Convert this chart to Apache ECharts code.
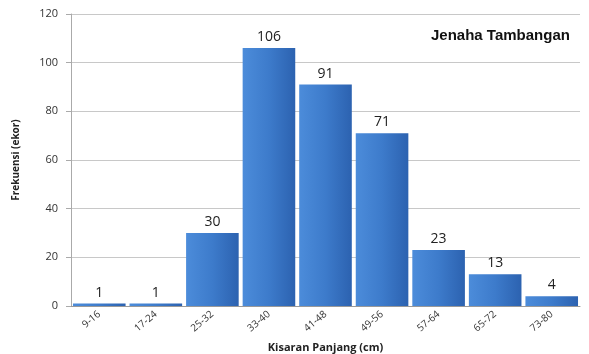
<!DOCTYPE html>
<html>
<head>
<meta charset="utf-8">
<script src="https://cdn.jsdelivr.net/npm/echarts@6/dist/echarts.min.js"></script>
<style>
  html, body { margin: 0; padding: 0; background: #fff; }
  #chart { width: 589px; height: 354px; }
</style>
</head>
<body>
<div id="chart"></div>
<script>
// Length classes (cm) and fish counts per class
const categories = ['9-16', '17-24', '25-32', '33-40', '41-48', '49-56', '57-64', '65-72', '73-80'];
const counts = [1, 1, 30, 106, 91, 71, 23, 13, 4];
const yTicks = { min: 0, max: 120, interval: 20 };

const chart = echarts.init(document.getElementById('chart'), null, { renderer: 'canvas' });

const barFill = new echarts.graphic.LinearGradient(0, 0, 1, 0, [
  { offset: 0, color: '#4c8cda' },
  { offset: 0.5, color: '#3d7bcb' },
  { offset: 1, color: '#2c62b0' }
]);

chart.setOption({
  animation: false,
  backgroundColor: '#ffffff',
  title: {
    text: 'Jenaha Tambangan',
    left: 426,
    top: 23,
    textStyle: { fontFamily: 'Liberation Sans, Arial, sans-serif', fontWeight: 'bold', fontSize: 15, color: '#111' }
  },
  grid: { left: 71, right: 9, top: 14, bottom: 48, outerBoundsMode: 'none', containLabel: false },
  xAxis: {
    type: 'category',
    data: categories,
    name: 'Kisaran Panjang (cm)',
    nameLocation: 'middle',
    nameGap: 36,
    nameTextStyle: { fontFamily: 'Open Sans, sans-serif', fontWeight: 'bold', fontSize: 11, color: '#222' },
    axisLine: { lineStyle: { color: '#999', width: 1 } },
    axisTick: { show: false },
    axisLabel: { rotate: 40, fontSize: 10, color: '#333', margin: 7, fontFamily: 'Open Sans, sans-serif' }
  },
  yAxis: {
    type: 'value',
    min: yTicks.min,
    max: yTicks.max,
    interval: yTicks.interval,
    name: 'Frekuensi (ekor)',
    nameLocation: 'middle',
    nameGap: 50,
    nameTextStyle: { fontFamily: 'Open Sans, sans-serif', fontWeight: 'bold', fontSize: 10, color: '#222' },
    axisLine: { show: true, lineStyle: { color: '#aaa', width: 1 } },
    axisTick: { show: true, length: 5, lineStyle: { color: '#aaa' } },
    axisLabel: { fontSize: 11, color: '#333', margin: 13, fontFamily: 'Open Sans, sans-serif' },
    splitLine: { lineStyle: { color: '#c8c8c8', width: 1 } }
  },
  series: [{
    type: 'bar',
    data: counts,
    barCategoryGap: '7%',
    itemStyle: { color: barFill },
    label: {
      show: true,
      position: 'top',
      distance: 4,
      fontSize: 14,
      color: '#222',
      fontFamily: 'Open Sans, sans-serif'
    }
  }]
});
</script>
</body>
</html>
